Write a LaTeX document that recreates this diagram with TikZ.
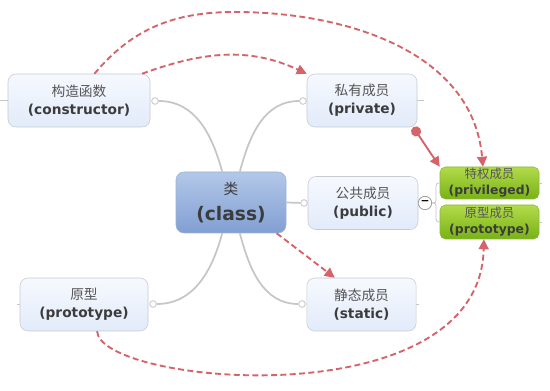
\documentclass[tikz,border=0pt]{standalone}
\usepackage{fontspec}
\setmainfont{DejaVu Sans}
\newfontfamily\cjk{Noto Sans CJK SC}
\usetikzlibrary{arrows.meta}
\definecolor{topicedge}{HTML}{C5CAD3}
\definecolor{topictop}{HTML}{F6F9FE}
\definecolor{topicbot}{HTML}{E2EBFA}
\definecolor{classedge}{HTML}{9DB2D3}
\definecolor{classtop}{HTML}{B3C8E8}
\definecolor{classbot}{HTML}{819FD3}
\definecolor{membedge}{HTML}{8BB83A}
\definecolor{membtop}{HTML}{B2DB4A}
\definecolor{membbot}{HTML}{78B215}
\definecolor{branchgray}{HTML}{C6C6C6}
\definecolor{linkred}{HTML}{D6626A}
\definecolor{inkgray}{HTML}{3C3C3C}
\definecolor{cjkgray}{HTML}{555555}
\newcommand{\twoline}[2]{{\cjk\color{cjkgray}#1}\\{\bfseries #2}}

\begin{document}
\begin{tikzpicture}[x=0.75pt,y=-0.75pt,
  topic/.style={draw=topicedge, rounded corners=6pt, top color=topictop, bottom color=topicbot,
    align=center, text=inkgray, inner sep=0pt, minimum height=39.75pt, font=\fontsize{10.3}{13.5}\selectfont},
  central/.style={draw=classedge, rounded corners=6pt, top color=classtop, bottom color=classbot,
    align=center, text=inkgray, inner sep=0pt, minimum width=82.5pt, minimum height=45.75pt, font=\fontsize{14}{20}\selectfont},
  member/.style={draw=membedge, rounded corners=4pt, top color=membtop, bottom color=membbot,
    align=center, text=inkgray, inner sep=0pt, minimum width=74.25pt, font=\fontsize{9.3}{12}\selectfont},
  knob/.style={circle, draw=branchgray, fill=white, line width=0.6pt, inner sep=0pt, minimum size=5pt},
  fold/.style={circle, draw=branchgray!80!black, fill=white, line width=0.6pt, inner sep=0pt, minimum size=10pt, font=\fontsize{8}{8}\selectfont\bfseries},
  branch/.style={draw=branchgray, line width=1.3pt},
  stub/.style={draw=branchgray, line width=0.6pt},
  link/.style={draw=linkred, line width=1.4pt, dash pattern=on 4.5pt off 2.5pt, -{Triangle[length=7.5pt,width=7.5pt]}},
  pin/.style={draw=linkred, line width=1.4pt, {Circle[length=7.5pt]}-{Triangle[length=7.5pt,width=7.5pt]}}]
\useasboundingbox[fill=white] (0,0) rectangle (550,391);

\node[knob] (kctor) at (155,101) {};
\node[knob] (kpriv) at (303,101) {};
\node[knob] (kpub) at (304,203) {};
\node[knob] (kstat) at (302,304) {};
\node[knob] (kproto) at (153,304) {};

\node[central] (class) at (231,202.5) {{\fontsize{11}{11}\selectfont\cjk 类}\\{\bfseries (class)}};
\node[topic, minimum width=106.5pt] (ctor) at (79,100.5) {\twoline{构造函数}{(constructor)}};
\node[topic, minimum width=82.5pt] (priv) at (362,100.5) {\twoline{私有成员}{(private)}};
\node[topic, minimum width=82.5pt] (pub) at (363,203) {\twoline{公共成员}{(public)}};
\node[topic, minimum width=82pt] (stat) at (361.5,304.5) {\twoline{静态成员}{(static)}};
\node[topic, minimum width=96pt] (proto) at (84,304.5) {\twoline{原型}{(prototype)}};
\node[member, minimum height=24pt] (privil) at (489.5,183) {\twoline{特权成员}{(privileged)}};
\node[member, minimum height=25.5pt] (protom) at (489.5,222) {\twoline{原型成员}{(prototype)}};
\node[fold] (fold) at (425,203) {−};

\draw[branch] (class.106) to[out=105,in=0] (kctor);
\draw[branch] (class.74) to[out=75,in=180] (kpriv);
\draw[branch] (class.east) -- (kpub);
\draw[branch] (class.254) to[out=255,in=0] (kproto);
\draw[branch] (class.286) to[out=285,in=180] (kstat);
\draw[stub] (pub.east) -- (fold);
\draw[stub, rounded corners=2pt] (fold.east) -- ++(4,0) |- (privil.west);
\draw[stub, rounded corners=2pt] (fold.east) -- ++(4,0) |- (protom.west);
\draw[stub] (ctor.west) -- ++(-8,0);
\draw[stub] (priv.east) -- ++(7,0);
\draw[stub] (stat.east) -- ++(3,0);
\draw[stub] (proto.west) -- ++(-3,0);
\draw[stub] (privil.east) -- ++(3,0);
\draw[stub] (protom.east) -- ++(3,0);

\draw[link] (ctor.23) to[out=20,in=155] (priv.north west);
\draw[link] (ctor.60) to[out=50,in=180] (235,12) to[out=0,in=95] (privil.112);
\draw[pin] ([xshift=-3pt]priv.south east) -- (privil.north west);
\draw[link] (class.-34) -- (stat.135);
\draw[link] (proto.-64) .. controls (100,385) and (480,420) .. (protom.-108);
\end{tikzpicture}
\end{document}
